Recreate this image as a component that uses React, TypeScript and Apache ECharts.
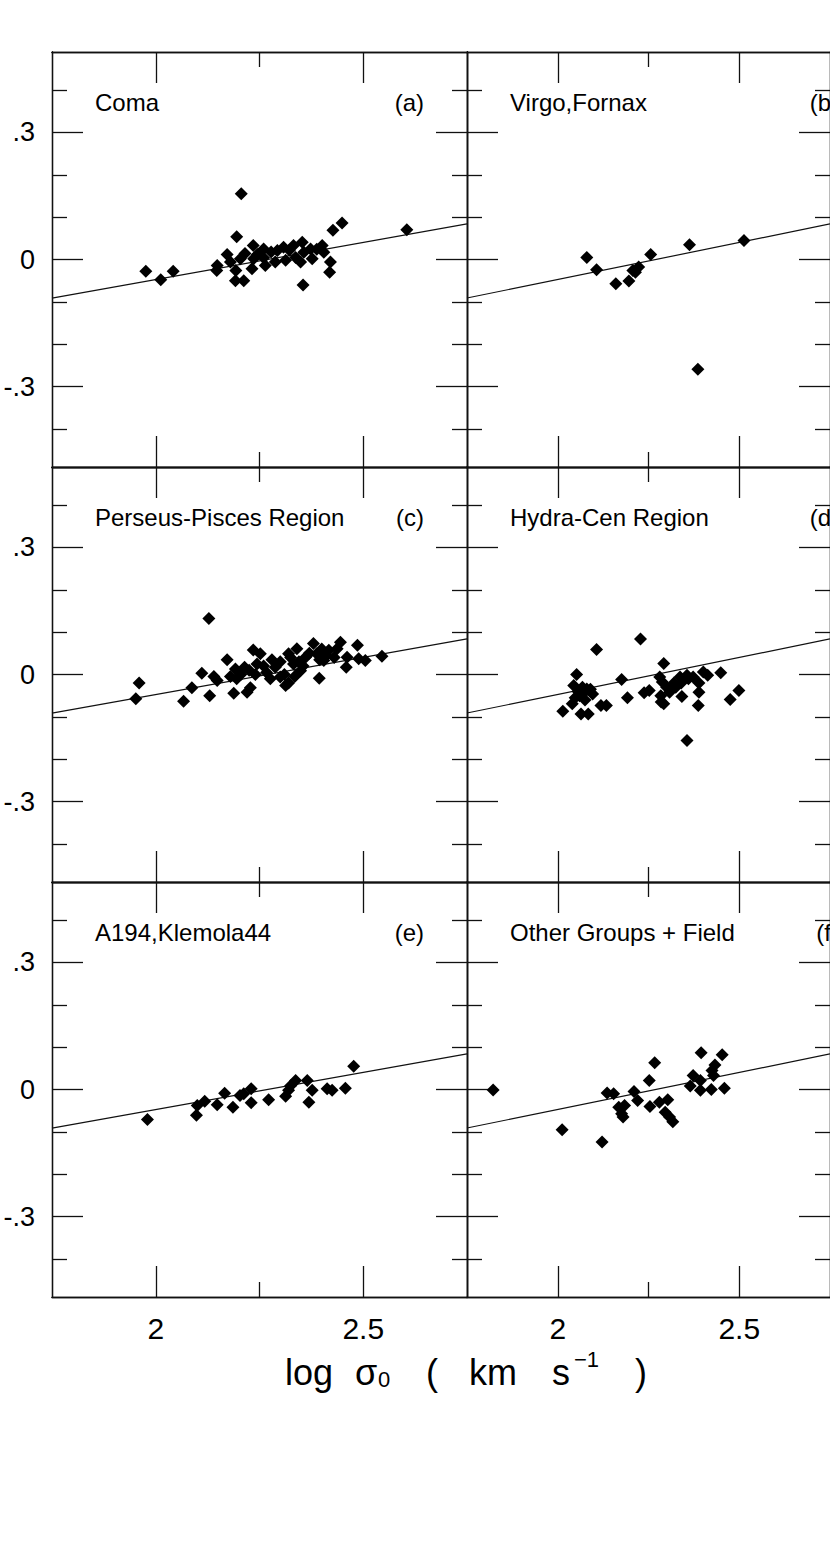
import React, { useEffect, useRef } from "react";
import * as echarts from "echarts";

// ---- axis ranges & ticks ----
const X_MIN = 1.75;
const X_MAX = 2.75;
const Y_MIN = -0.49;
const Y_MAX = 0.49;
const xMajorTicks = [2, 2.5];
const xMinorTicks = [2.25];
const yMajorTicks = [-0.3, 0, 0.3];
const yMinorTicks = [-0.4, -0.2, -0.1, 0.1, 0.2, 0.4];

// ---- fitted relation (same in every panel) ----
const fitLineX = [1.75, 2.75];
const fitLineY = [-0.091, 0.084];

// ---- panel labels ----
const panelNames = [
  "Coma",
  "Virgo,Fornax",
  "Perseus-Pisces Region",
  "Hydra-Cen Region",
  "A194,Klemola44",
  "Other Groups + Field",
];
const panelTags = ["(a)", "(b)", "(c)", "(d)", "(e)", "(f)"];

// ---- data: [log sigma0, residual] ----
const comaPoints = [
  [1.976, -0.028], [2.012, -0.048], [2.042, -0.028], [2.206, 0.155], [2.195, 0.054],
  [2.148, -0.014], [2.147, -0.026], [2.172, 0.012], [2.18, -0.006], [2.193, -0.026],
  [2.192, -0.05], [2.212, -0.05], [2.204, 0.002], [2.235, 0.033], [2.232, -0.022],
  [2.236, 0.002], [2.26, 0.025], [2.264, -0.014], [2.26, 0.004], [2.288, -0.006],
  [2.293, 0.021], [2.308, 0.029], [2.313, -0.002], [2.332, 0.033], [2.337, 0.005],
  [2.353, 0.041], [2.357, 0.017], [2.349, -0.006], [2.355, -0.06], [2.373, 0.025],
  [2.377, 0.002], [2.401, 0.033], [2.405, 0.017], [2.421, -0.006], [2.419, -0.03],
  [2.427, 0.069], [2.449, 0.086], [2.605, 0.07], [2.245, 0.012], [2.278, 0.018],
  [2.322, 0.022], [2.388, 0.024], [2.215, 0.014],
];
const virgoFornaxPoints = [
  [2.08, 0.005], [2.107, -0.024], [2.16, -0.057], [2.196, -0.051], [2.207, -0.026],
  [2.223, -0.018], [2.214, -0.03], [2.256, 0.012], [2.363, 0.035], [2.386, -0.259],
  [2.513, 0.045],
];
const perseusPiscesPoints = [
  [2.128, 0.132], [1.96, -0.02], [1.952, -0.057], [2.067, -0.063], [2.087, -0.031],
  [2.111, 0.003], [2.13, -0.05], [2.14, -0.005], [2.148, -0.014], [2.172, 0.035],
  [2.188, -0.044], [2.195, -0.01], [2.192, 0.013], [2.22, -0.042], [2.228, -0.031],
  [2.214, 0.017], [2.235, 0.058], [2.244, 0.025], [2.252, 0.049], [2.267, 0.005],
  [2.276, -0.01], [2.288, 0.017], [2.3, -0.006], [2.313, -0.026], [2.32, 0.049],
  [2.332, 0.025], [2.34, 0.061], [2.349, 0.009], [2.361, 0.041], [2.38, 0.073],
  [2.388, 0.049], [2.394, -0.009], [2.405, 0.033], [2.417, 0.057], [2.445, 0.076],
  [2.437, 0.061], [2.459, 0.017], [2.461, 0.041], [2.486, 0.069], [2.489, 0.037],
  [2.505, 0.033], [2.545, 0.043], [2.3, 0.03], [2.31, 0.0], [2.325, 0.04],
  [2.335, -0.005], [2.345, 0.03], [2.355, 0.02], [2.37, 0.05], [2.395, 0.035],
  [2.41, 0.045], [2.43, 0.04], [2.32, -0.02], [2.28, 0.035], [2.26, 0.02],
  [2.24, 0.0], [2.225, 0.01], [2.205, 0.0], [2.18, -0.005], [2.4, 0.06],
];
const hydraCenPoints = [
  [2.107, 0.059], [2.228, 0.084], [2.052, 0.0], [2.044, -0.026], [2.068, -0.03],
  [2.08, -0.034], [2.096, -0.046], [2.06, -0.05], [2.04, -0.069], [2.014, -0.087],
  [2.064, -0.093], [2.084, -0.093], [2.119, -0.073], [2.134, -0.073], [2.176, -0.012],
  [2.192, -0.055], [2.238, -0.043], [2.252, -0.038], [2.292, 0.026], [2.281, -0.006],
  [2.288, -0.018], [2.284, -0.05], [2.292, -0.069], [2.308, -0.042], [2.325, -0.03],
  [2.337, -0.006], [2.342, -0.052], [2.356, -0.002], [2.373, -0.006], [2.356, -0.156],
  [2.389, -0.02], [2.389, -0.042], [2.387, -0.073], [2.401, 0.006], [2.413, -0.002],
  [2.449, 0.004], [2.475, -0.059], [2.499, -0.038], [2.056, -0.04], [2.07, -0.045],
  [2.048, -0.055], [2.075, -0.06], [2.09, -0.035], [2.3, -0.03], [2.285, -0.065],
  [2.32, -0.02], [2.36, -0.01], [2.34, -0.02],
];
const a194KlemolaPoints = [
  [1.98, -0.071], [2.098, -0.061], [2.1, -0.038], [2.118, -0.028], [2.148, -0.036],
  [2.166, -0.009], [2.186, -0.042], [2.203, -0.014], [2.212, -0.01], [2.23, 0.002],
  [2.23, -0.031], [2.272, -0.024], [2.313, -0.016], [2.32, -0.002], [2.325, 0.009],
  [2.337, 0.021], [2.365, 0.021], [2.369, -0.03], [2.377, -0.002], [2.413, 0.002],
  [2.425, -0.002], [2.457, 0.003], [2.477, 0.055],
];
const otherGroupsPoints = [
  [1.822, -0.001], [2.012, -0.095], [2.122, -0.124], [2.136, -0.008], [2.154, -0.01],
  [2.168, -0.042], [2.176, -0.057], [2.184, -0.038], [2.18, -0.065], [2.21, -0.005],
  [2.22, -0.026], [2.252, 0.021], [2.267, 0.063], [2.254, -0.04], [2.28, -0.03],
  [2.303, -0.024], [2.296, -0.054], [2.308, -0.065], [2.317, -0.076], [2.365, 0.008],
  [2.373, 0.033], [2.393, 0.021], [2.393, -0.002], [2.395, 0.087], [2.425, 0.045],
  [2.433, 0.058], [2.453, 0.082], [2.423, 0.0], [2.459, 0.003], [2.429, 0.033],
];

const panelData = [
  comaPoints,
  virgoFornaxPoints,
  perseusPiscesPoints,
  hydraCenPoints,
  a194KlemolaPoints,
  otherGroupsPoints,
];

// ---- layout ----
const FONT = "'Liberation Sans', Arial, Helvetica, sans-serif";
const PANEL = 415;
const colLeft = [52, 467];
const rowTop = [52, 467, 882];
const INK = "#111";

function yLabel(v: number): string {
  if (Math.abs(v) < 1e-9) return "0";
  const d = Math.round(Math.abs(v) * 10);
  return (v < 0 ? "-" : "") + "." + d;
}

export default function App() {
  const ref = useRef<HTMLDivElement>(null);

  useEffect(() => {
    if (!ref.current) return;
    const chart = echarts.init(ref.current, undefined, { renderer: "svg" });

    const grids: any[] = [];
    const xAxes: any[] = [];
    const yAxes: any[] = [];
    const series: any[] = [];
    const graphics: any[] = [];

    const axisLine = { show: true, onZero: false, lineStyle: { color: INK, width: 1.3 } };
    const tickStyle = { color: INK, width: 1.3 };

    for (let g = 0; g < 6; g++) {
      const col = g % 2;
      const row = Math.floor(g / 2);
      const left = colLeft[col];
      const top = rowTop[row];
      grids.push({ left, top, width: PANEL, height: PANEL });

      const showX = row === 2;
      const showY = col === 0;

      const xBase = {
        type: "value",
        gridIndex: g,
        min: X_MIN,
        max: X_MAX,
        splitLine: { show: false },
        axisLine,
      };
      xAxes.push({
        ...xBase,
        position: "bottom",
        axisTick: { show: true, inside: true, length: 31, customValues: xMajorTicks, lineStyle: tickStyle },
        axisLabel: {
          show: showX,
          customValues: xMajorTicks,
          fontSize: 30,
          fontFamily: FONT,
          color: "#000",
          margin: 16,
          formatter: (v: number) => String(v),
        },
      });
      xAxes.push({
        ...xBase,
        position: "bottom",
        axisTick: { show: true, inside: true, length: 15, customValues: xMinorTicks, lineStyle: tickStyle },
        axisLabel: { show: false },
      });
      xAxes.push({
        ...xBase,
        position: "top",
        axisTick: { show: true, inside: true, length: 31, customValues: xMajorTicks, lineStyle: tickStyle },
        axisLabel: { show: false },
      });
      xAxes.push({
        ...xBase,
        position: "top",
        axisTick: { show: true, inside: true, length: 15, customValues: xMinorTicks, lineStyle: tickStyle },
        axisLabel: { show: false },
      });

      const yBase = {
        type: "value",
        gridIndex: g,
        min: Y_MIN,
        max: Y_MAX,
        splitLine: { show: false },
        axisLine,
      };
      yAxes.push({
        ...yBase,
        position: "left",
        axisTick: { show: true, inside: true, length: 31, customValues: yMajorTicks, lineStyle: tickStyle },
        axisLabel: {
          show: showY,
          customValues: yMajorTicks,
          fontSize: 27,
          fontFamily: FONT,
          color: "#000",
          margin: 17,
          formatter: (v: number) => yLabel(v),
        },
      });
      yAxes.push({
        ...yBase,
        position: "left",
        axisTick: { show: true, inside: true, length: 15, customValues: yMinorTicks, lineStyle: tickStyle },
        axisLabel: { show: false },
      });
      yAxes.push({
        ...yBase,
        position: "right",
        axisTick: { show: true, inside: true, length: 31, customValues: yMajorTicks, lineStyle: tickStyle },
        axisLabel: { show: false },
      });
      yAxes.push({
        ...yBase,
        position: "right",
        axisTick: { show: true, inside: true, length: 15, customValues: yMinorTicks, lineStyle: tickStyle },
        axisLabel: { show: false },
      });

      series.push({
        type: "line",
        xAxisIndex: g * 4,
        yAxisIndex: g * 4,
        data: fitLineX.map((x, i) => [x, fitLineY[i]]),
        showSymbol: false,
        symbol: "none",
        lineStyle: { color: INK, width: 1.2 },
        silent: true,
        z: 2,
      });
      series.push({
        type: "scatter",
        xAxisIndex: g * 4,
        yAxisIndex: g * 4,
        data: panelData[g],
        symbol: "diamond",
        symbolSize: 13,
        itemStyle: { color: "#000", opacity: 1 },
        z: 3,
      });

      graphics.push({
        type: "text",
        x: left + 43,
        y: top + 50,
        style: {
          text: panelNames[g],
          font: `24px ${FONT}`,
          fill: "#000",
          align: "left",
          verticalAlign: "middle",
        },
      });
      graphics.push({
        type: "text",
        x: left + 372,
        y: top + 50,
        style: {
          text: panelTags[g],
          font: `24px ${FONT}`,
          fill: "#000",
          align: "right",
          verticalAlign: "middle",
        },
      });
    }

    // x-axis title: log σ0 ( km s^-1 )
    const base = { fontSize: 36, fontFamily: FONT, color: "#000", lineHeight: 48, verticalAlign: "middle", align: "left" };
    graphics.push({
      type: "text",
      x: 285,
      y: 1372,
      style: {
        text: "{log|log}{sig|σ}{sub|0}{lp|(}{km|km}{s|s}{sup|−1}{rp|)}",
        fill: "#000",
        align: "left",
        verticalAlign: "middle",
        rich: {
          log: { ...base, width: 70 },
          sig: { ...base, width: 22 },
          sub: { ...base, fontSize: 22, lineHeight: 22, width: 48, verticalAlign: "bottom", padding: [0, 0, 6, 1] },
          lp: { ...base, width: 43 },
          km: { ...base, width: 83 },
          s: { ...base, width: 20 },
          sup: { ...base, fontSize: 22, lineHeight: 22, width: 61, verticalAlign: "top", padding: [0, 0, 0, 2] },
          rp: { ...base },
        },
      },
    });

    chart.setOption({
      animation: false,
      backgroundColor: "#fff",
      textStyle: { fontFamily: FONT },
      grid: grids,
      xAxis: xAxes,
      yAxis: yAxes,
      series,
      graphic: graphics,
    });

    return () => chart.dispose();
  }, []);

  return (
    <div
      ref={ref}
      style={{ position: "absolute", left: 0, top: 0, width: 830, height: 1557 }}
    />
  );
}
